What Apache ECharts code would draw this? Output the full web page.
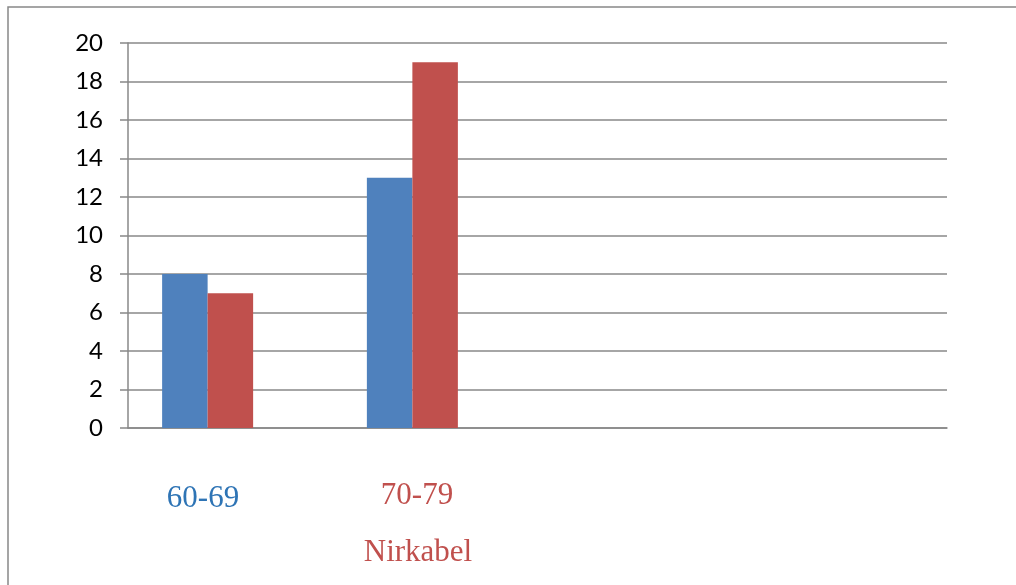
<!DOCTYPE html>
<html>
<head>
<meta charset="utf-8">
<script src="https://cdn.jsdelivr.net/npm/echarts@6/dist/echarts.min.js"></script>
<style>
html,body{margin:0;padding:0;background:#fff;}
#c{width:1016px;height:585px;}
</style>
</head>
<body>
<div id="c"></div>
<script>
var categories = ['1', '2', '3', '4'];
var seriesBlue = [8, 13, null, null];
var seriesRed = [7, 19, null, null];
var seriesEmpty = [null, null, null, null];
var yTicks = [0, 2, 4, 6, 8, 10, 12, 14, 16, 18, 20];
var labelTexts = ['60-69', '70-79', 'Nirkabel'];

var chart = echarts.init(document.getElementById('c'), null, {renderer: 'canvas'});
var serifFont = '"Liberation Serif", "Times New Roman", serif';
chart.setOption({
  animation: false,
  backgroundColor: '#ffffff',
  grid: {left: 128, right: 69, top: 43, bottom: 157, containLabel: false},
  xAxis: {
    type: 'category',
    data: categories,
    axisLine: {show: true, lineStyle: {color: '#888888', width: 1.5}},
    axisTick: {show: false},
    axisLabel: {show: false},
    splitLine: {show: false}
  },
  yAxis: {
    type: 'value',
    min: yTicks[0],
    max: yTicks[yTicks.length - 1],
    interval: 2,
    axisLine: {show: true, lineStyle: {color: '#888888', width: 1.5}},
    axisTick: {show: true, length: 8, lineStyle: {color: '#888888', width: 1.5}},
    axisLabel: {
      margin: 25,
      color: '#000000',
      fontSize: 24,
      fontFamily: 'Lato, "Liberation Sans", Arial, sans-serif',
      padding: [7, 0, 0, 0]
    },
    splitLine: {show: true, lineStyle: {color: '#888888', width: 1.5}}
  },
  series: [
    {type: 'bar', data: seriesBlue, barGap: '0%', barCategoryGap: '33.33%',
     itemStyle: {color: '#4F81BD'}},
    {type: 'bar', data: seriesRed, barGap: '0%', barCategoryGap: '33.33%',
     itemStyle: {color: '#C0504D'}},
    {type: 'bar', data: seriesEmpty, barGap: '0%', barCategoryGap: '33.33%',
     itemStyle: {color: '#9BBB59'}}
  ],
  graphic: [
    {type: 'rect', shape: {x: 8, y: 7, width: 1200, height: 800},
     style: {fill: null, stroke: '#888888', lineWidth: 1.5}, silent: true},
    {type: 'text', x: 203, y: 499,
     style: {text: labelTexts[0], fill: '#2E74B5', font: '31px ' + serifFont,
             textAlign: 'center', textVerticalAlign: 'middle'}},
    {type: 'text', x: 417, y: 496,
     style: {text: labelTexts[1], fill: '#C0504D', font: '31px ' + serifFont,
             textAlign: 'center', textVerticalAlign: 'middle'}},
    {type: 'text', x: 418, y: 553,
     style: {text: labelTexts[2], fill: '#C0504D', font: '31px ' + serifFont,
             textAlign: 'center', textVerticalAlign: 'middle'}}
  ]
});
</script>
</body>
</html>
